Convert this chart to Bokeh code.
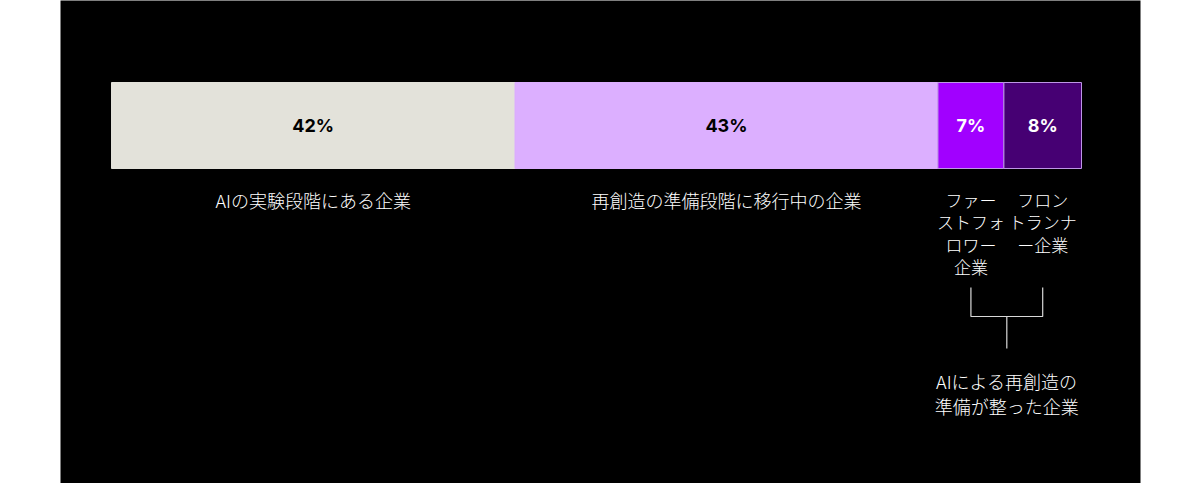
from bokeh.plotting import figure
from bokeh.models import Range1d, ColumnDataSource
from bokeh.core.properties import value
from bokeh.embed import file_html
from bokeh.resources import INLINE

# ---- data ----
segments = ["experimenting", "transitioning", "fast_followers", "frontrunners"]
shares = [41.6, 43.6, 6.8, 8.0]          # widths (percent)
pct_labels = ["42%", "43%", "7%", "8%"]
cat_labels = [
    "AIの実験段階にある企業",
    "再創造の準備段階に移行中の企業",
    "ファー\nストフォ\nロワー\n企業",
    "フロン\nトランナ\nー企業",
]
group_label = "AIによる再創造の\n準備が整った企業"

# ---- styles ----
fills = ["#E3E2DA", "#DCAFFF", "#A100FF", "#460073"]
edges = [None, None, "#BE96E6", "#BE96E6"]
pct_colors = ["#000000", "#000000", "#FFFFFF", "#FFFFFF"]
cat_sizes = ["18px", "18px", "17px", "17px"]
JP = value("'Noto Sans CJK JP Light', 'Noto Sans CJK JP'")

# ---- layout (page pixels) ----
W, H = 1200, 483
FRAME_L, FRAME_R = 60, 1140          # page x of black panel
BAR_L, BAR_R = 111, 1081             # page x of bar ends
px_per_pct = (BAR_R - BAR_L) / sum(shares)
x0 = -(BAR_L - FRAME_L) / px_per_pct
x1 = sum(shares) + (FRAME_R - BAR_R) / px_per_pct

p = figure(width=W, height=H, output_backend="svg", toolbar_location=None,
           x_range=Range1d(x0, x1), y_range=Range1d(H, 0),
           x_axis_location=None, y_axis_location=None,
           min_border_left=FRAME_L, min_border_right=W - FRAME_R,
           min_border_top=0, min_border_bottom=0,
           background_fill_color="#000000", border_fill_color="#FFFFFF",
           outline_line_color=None)
p.grid.visible = False

lefts, rights, centers = [], [], []
acc = 0.0
for s in shares:
    lefts.append(acc)
    rights.append(acc + s)
    centers.append(acc + s / 2)
    acc += s

BAR_TOP, BAR_BOT = 82, 168
src = ColumnDataSource(dict(left=lefts, right=rights, fill=fills,
                            edge=[e if e else f for e, f in zip(edges, fills)],
                            cx=centers, lab=pct_labels, tc=pct_colors))
p.quad(left="left", right="right", top=BAR_TOP, bottom=BAR_BOT, source=src,
       fill_color="fill", line_color="edge", line_width=1)
p.text(x="cx", y=(BAR_TOP + BAR_BOT) / 2, text="lab", source=src,
       text_color="tc", text_font=value("Inter"), text_font_style="bold",
       text_font_size="18px", text_align="center", text_baseline="middle")

# category labels, line by line
LAB_Y, LAB_LH = 199, 22.4
xs, ys, ts, fs = [], [], [], []
for c, lab, sz in zip(centers, cat_labels, cat_sizes):
    for i, line in enumerate(lab.split("\n")):
        xs.append(c)
        ys.append(LAB_Y + i * LAB_LH)
        ts.append(line)
        fs.append(sz)
lsrc = ColumnDataSource(dict(x=xs, y=ys, t=ts, fs=fs))
p.text(x="x", y="y", text="t", source=lsrc, text_color="#FFFFFF", text_font=JP,
       text_font_size="fs", text_align="center", text_baseline="middle")

# bracket grouping the last two segments
cl, cr = centers[2], centers[3]
cm = (cl + cr) / 2
TICK_TOP, BR_Y, STEM_BOT = 287, 316, 348
p.multi_line(xs=[[cl, cl, cr, cr], [cm, cm]],
             ys=[[TICK_TOP, BR_Y, BR_Y, TICK_TOP], [BR_Y, STEM_BOT]],
             line_color="#D9D9D9", line_width=1.2)

GL_Y, GL_LH = 380, 25
glines = group_label.split("\n")
p.text(x=[cm] * len(glines), y=[GL_Y + i * GL_LH for i in range(len(glines))],
       text=glines, text_color="#FFFFFF", text_font=JP, text_font_size="18px",
       text_align="center", text_baseline="middle")

open("out.html", "w").write(file_html(p, INLINE))
